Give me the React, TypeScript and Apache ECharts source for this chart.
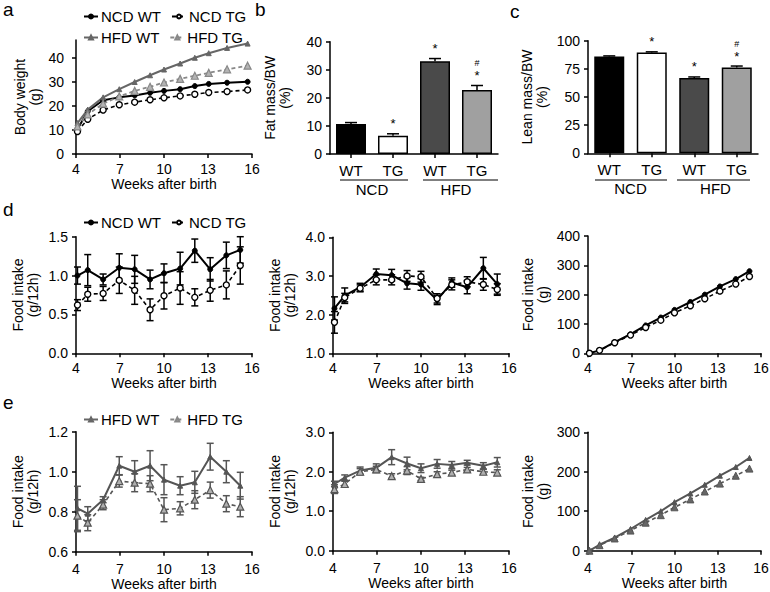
import React, { useEffect, useRef } from "react";
import * as echarts from "echarts";

const FONT = "'Liberation Sans', Arial, Helvetica, sans-serif";

// ---------- data ----------
// panel a: body weight
const weeksA = [4.1, 4.8, 5.85, 6.95, 8.0, 9.05, 10.0, 11.1, 12.1, 13.05, 14.3, 15.7];
const bwNcdWt = [10.3, 17.8, 22.4, 23.6, 24.4, 25.5, 26.3, 27.0, 28.3, 29.2, 29.7, 30.1];
const bwNcdTg = [9.4, 14.5, 18.3, 20.5, 21.6, 22.6, 23.4, 24.2, 24.9, 25.6, 26.0, 26.7];
const bwHfdWt = [12.9, 18.5, 23.6, 27.0, 30.0, 32.8, 35.2, 37.7, 40.1, 42.0, 44.2, 46.0];
const bwHfdTg = [11.5, 16.5, 21.0, 24.0, 26.3, 28.0, 29.8, 31.3, 32.6, 33.8, 35.3, 36.8];

// panels b, c: body composition
const barLabels = ["WT", "TG", "WT", "TG"];
const dietLabels = ["NCD", "HFD"];
const fatMass = [10.7, 6.5, 33.0, 22.8];
const fatErr = [0.5, 0.7, 1.0, 1.6];
const fatMarks = ["", "*", "*", "#*"];
const leanMass = [86.0, 89.5, 66.8, 76.3];
const leanErr = [0.5, 0.6, 1.0, 1.2];
const leanMarks = ["", "*", "*", "#*"];

// panels d, e: food intake
const weeksFI = [4.1, 4.8, 5.85, 6.95, 8.0, 9.05, 10.0, 11.1, 12.1, 13.15, 14.25, 15.2];
const d1Wt = [1.0, 1.07, 0.95, 1.1, 1.08, 0.95, 1.03, 1.09, 1.32, 1.08, 1.26, 1.33];
const d1WtErr = [0.11, 0.2, 0.07, 0.18, 0.18, 0.12, 0.12, 0.21, 0.15, 0.15, 0.17, 0.17];
const d1Tg = [0.62, 0.76, 0.77, 0.94, 0.81, 0.56, 0.74, 0.84, 0.72, 0.81, 0.88, 1.13];
const d1TgErr = [0.07, 0.09, 0.09, 0.17, 0.18, 0.14, 0.17, 0.21, 0.11, 0.14, 0.18, 0.24];
const d2Wt = [2.16, 2.49, 2.71, 3.05, 3.02, 2.81, 2.78, 2.38, 2.83, 2.71, 3.2, 2.79];
const d2WtErr = [0.3, 0.2, 0.1, 0.13, 0.15, 0.15, 0.15, 0.12, 0.12, 0.17, 0.28, 0.26];
const d2Tg = [1.8, 2.44, 2.68, 2.9, 2.9, 3.0, 2.98, 2.42, 2.77, 2.85, 2.78, 2.65];
const d2TgErr = [0.28, 0.11, 0.09, 0.13, 0.13, 0.14, 0.14, 0.12, 0.13, 0.13, 0.15, 0.15];
const d3Wt = [0, 10, 38, 65, 95, 122, 148, 175, 200, 228, 253, 280];
const d3Tg = [0, 10, 36, 62, 88, 113, 138, 162, 186, 212, 236, 262];
const e1Wt = [0.817, 0.79, 0.86, 1.03, 1.0, 1.03, 0.96, 0.93, 0.947, 1.075, 1.0, 0.93];
const e1WtErr = [0.11, 0.035, 0.015, 0.045, 0.055, 0.075, 0.075, 0.045, 0.055, 0.067, 0.055, 0.067];
const e1Tg = [0.78, 0.745, 0.835, 0.953, 0.945, 0.94, 0.81, 0.817, 0.86, 0.908, 0.84, 0.825];
const e1TgErr = [0.08, 0.04, 0.025, 0.03, 0.045, 0.04, 0.06, 0.033, 0.045, 0.04, 0.04, 0.05];
const e2Wt = [1.69, 1.85, 2.03, 2.1, 2.37, 2.21, 2.09, 2.2, 2.17, 2.23, 2.15, 2.24];
const e2WtErr = [0.07, 0.07, 0.09, 0.1, 0.19, 0.16, 0.11, 0.11, 0.09, 0.06, 0.08, 0.12];
const e2Tg = [1.56, 1.69, 2.0, 2.06, 1.89, 2.03, 1.82, 1.94, 1.98, 2.06, 2.0, 1.98];
const e2TgErr = [0.11, 0.07, 0.08, 0.08, 0.06, 0.1, 0.04, 0.06, 0.06, 0.05, 0.06, 0.07];
const e3Wt = [0, 15, 33, 55, 78, 100, 123, 145, 167, 190, 212, 235];
const e3Tg = [0, 14, 31, 51, 71, 90, 110, 130, 150, 170, 190, 208];

// tick labels
const weekTicks = [4, 7, 10, 13, 16];
const ticksA = [0, 10, 20, 30, 40];
const ticksB = [0, 10, 20, 30, 40];
const ticksC = [0, 25, 50, 75, 100];
const ticksD1 = [0, 0.5, 1.0, 1.5];
const ticksD2 = [1, 2, 3, 4];
const ticksD3 = [0, 100, 200, 300, 400];
const ticksE1 = [0.6, 0.8, 1.0, 1.2];
const ticksE2 = [0, 1, 2, 3];
const ticksE3 = [0, 100, 200, 300];

// ---------- layout / styles ----------
const GRIDS = [
  [76, 40, 176, 114], // a
  [330, 41.7, 168, 112.3], // b
  [588, 40.7, 170, 112.6], // c
  [76, 236.7, 176, 116.6], // d1
  [333, 237.3, 176, 116], // d2
  [588, 236, 173, 117.3], // d3
  [76, 431.7, 176, 120], // e1
  [333, 432.3, 176, 118.4], // e2
  [588, 432.3, 173, 118.4], // e3
];
const BAR_COLORS = ["#000000", "#ffffff", "#4a4a4a", "#a0a0a0"];
const HFD = "#555555";

const lineStyleAxis = { color: "#000", width: 1.5 };

function weekAxis(gridIndex: number, gap = 23, margin = 8) {
  return {
    type: "value",
    gridIndex,
    min: 4,
    max: 16,
    axisLine: { show: true, onZero: false, lineStyle: lineStyleAxis },
    axisTick: { show: true, length: 4, lineStyle: lineStyleAxis, customValues: weekTicks },
    axisLabel: { color: "#000", fontSize: 14, fontFamily: FONT, margin, customValues: weekTicks },
    splitLine: { show: false },
    name: "Weeks after birth",
    nameLocation: "middle",
    nameGap: gap,
    nameTextStyle: { color: "#000", fontSize: 14, fontFamily: FONT },
  };
}

function valAxis(gridIndex: number, min: number, max: number, ticks: number[], name: string, gap: number, dec: number, margin = 8) {
  return {
    type: "value",
    gridIndex,
    min,
    max,
    axisLine: { show: true, onZero: false, lineStyle: lineStyleAxis },
    axisTick: { show: true, length: 4, lineStyle: lineStyleAxis, customValues: ticks },
    axisLabel: {
      color: "#000",
      fontSize: 14,
      fontFamily: FONT,
      margin,
      customValues: ticks,
      formatter: (v: number) => v.toFixed(dec),
    },
    splitLine: { show: false },
    name,
    nameLocation: "middle",
    nameRotate: 90,
    nameGap: gap,
    nameTextStyle: { color: "#000", fontSize: 14, fontFamily: FONT, lineHeight: 15, align: "center" },
  };
}

function errRender(color: string) {
  return (params: any, api: any) => {
    const x = api.value(0);
    const y = api.value(1);
    const e = api.value(2);
    const t = api.coord([x, y + e]);
    const b = api.coord([x, y - e]);
    const st = { stroke: color, lineWidth: 1.5 };
    return {
      type: "group",
      children: [
        { type: "line", shape: { x1: t[0], y1: t[1], x2: b[0], y2: b[1] }, style: st },
        { type: "line", shape: { x1: t[0] - 3.5, y1: t[1], x2: t[0] + 3.5, y2: t[1] }, style: st },
        { type: "line", shape: { x1: b[0] - 3.5, y1: b[1], x2: b[0] + 3.5, y2: b[1] }, style: st },
      ],
    };
  };
}

function errSeries(idx: number, weeks: number[], vals: number[], errs: number[], color: string) {
  return {
    type: "custom",
    xAxisIndex: idx,
    yAxisIndex: idx,
    z: 1,
    silent: true,
    data: weeks.map((w, i) => [w, vals[i], errs[i]]),
    encode: { x: 0, y: 1 },
    renderItem: errRender(color),
  };
}

function lineSeries(idx: number, name: string, weeks: number[], vals: number[], opt: any) {
  return {
    type: "line",
    name,
    xAxisIndex: idx,
    yAxisIndex: idx,
    z: 3,
    data: weeks.map((w, i) => [w, vals[i]]),
    symbol: opt.symbol,
    symbolSize: opt.size,
    itemStyle: { color: opt.fill, borderColor: opt.stroke, borderWidth: opt.bw },
    lineStyle: { color: opt.stroke, width: opt.lw, type: opt.dash ? [4, 3] : "solid" },
  };
}

const S_NCD_WT = { symbol: "circle", size: 5, fill: "#000", stroke: "#000", bw: 1, lw: 2, dash: false };
const S_NCD_TG = { symbol: "circle", size: 6, fill: "#fff", stroke: "#000", bw: 1.4, lw: 1.6, dash: true };
const S_HFD_WT_A = { symbol: "triangle", size: 5, fill: "#666", stroke: "#666", bw: 1, lw: 2, dash: false };
const S_HFD_TG_A = { symbol: "triangle", size: 7, fill: "#b4b4b4", stroke: "#888", bw: 1.2, lw: 1.8, dash: true };
const S_HFD_WT = { symbol: "triangle", size: 5, fill: HFD, stroke: HFD, bw: 1, lw: 2, dash: false };
const S_HFD_TG = { symbol: "triangle", size: 7, fill: "#b0b0b0", stroke: HFD, bw: 1.2, lw: 1.6, dash: true };
const S_HFD_TG_C = { symbol: "triangle", size: 7, fill: "#666", stroke: HFD, bw: 1, lw: 1.6, dash: true };

function barCatAxis(gridIndex: number) {
  return {
    type: "category",
    gridIndex,
    data: barLabels,
    axisLine: { show: true, onZero: false, lineStyle: lineStyleAxis },
    axisTick: { show: true, alignWithLabel: true, length: 4, lineStyle: lineStyleAxis },
    axisLabel: { color: "#000", fontSize: 15, fontFamily: FONT, margin: 9 },
    splitLine: { show: false },
  };
}
function dietAxis(gridIndex: number) {
  return {
    type: "category",
    gridIndex,
    data: dietLabels,
    position: "bottom",
    offset: 19,
    axisLine: { show: false },
    axisTick: { show: false },
    axisLabel: { color: "#000", fontSize: 15, fontFamily: FONT, margin: 9 },
    splitLine: { show: false },
  };
}

function barSeries(idx: number, vals: number[]) {
  return {
    type: "bar",
    xAxisIndex: idx,
    yAxisIndex: idx,
    barWidth: 30,
    z: 2,
    data: vals.map((v, i) => ({ value: v, itemStyle: { color: BAR_COLORS[i % BAR_COLORS.length] } })),
    itemStyle: { borderColor: "#000", borderWidth: 1.5 },
  };
}

function barErrSeries(idx: number, vals: number[], errs: number[], marks: string[]) {
  return {
    type: "custom",
    xAxisIndex: idx,
    yAxisIndex: idx,
    z: 3,
    silent: true,
    data: vals.map((v, i) => [i, v, errs[i]]),
    encode: { x: 0, y: 1 },
    renderItem: (params: any, api: any) => {
      const i = api.value(0);
      const v = api.value(1);
      const e = api.value(2);
      const p0 = api.coord([i, v]);
      const p1 = api.coord([i, v + e]);
      const st = { stroke: "#000", lineWidth: 1.5 };
      const children: any[] = [
        { type: "line", shape: { x1: p0[0], y1: p0[1], x2: p1[0], y2: p1[1] }, style: st },
        { type: "line", shape: { x1: p1[0] - 6, y1: p1[1], x2: p1[0] + 6, y2: p1[1] }, style: st },
      ];
      const m = marks[params.dataIndex] || "";
      if (m.indexOf("*") >= 0) {
        children.push({
          type: "text",
          style: { text: "*", x: p1[0], y: p1[1] - 10, align: "center", verticalAlign: "middle", fontSize: 13, fontFamily: FONT, fill: "#000" },
        });
      }
      if (m.indexOf("#") >= 0) {
        children.push({
          type: "text",
          style: { text: "#", x: p1[0], y: p1[1] - 22, align: "center", verticalAlign: "middle", fontSize: 9, fontFamily: FONT, fill: "#000" },
        });
      }
      return { type: "group", children };
    },
  };
}

function legend(top: number, names: string[]) {
  return {
    left: 78,
    top,
    orient: "horizontal",
    itemWidth: 14,
    itemHeight: 5,
    itemGap: 10,
    data: names,
    selectedMode: false,
    textStyle: { color: "#000", fontSize: 15, fontFamily: FONT, padding: [0, 0, 0, -2] },
  };
}

function letter(t: string, x: number, y: number) {
  return {
    type: "text",
    x,
    y,
    style: { text: t, fontSize: 19, fontFamily: FONT, fill: "#000", verticalAlign: "top", align: "left" },
  };
}
function bracket(x1: number, x2: number, y: number) {
  return { type: "line", shape: { x1, y1: y, x2, y2: y }, style: { stroke: "#000", lineWidth: 1.1 } };
}

function buildOption() {
  return {
    animation: false,
    textStyle: { fontFamily: FONT },
    grid: GRIDS.map((g) => ({ left: g[0], top: g[1], width: g[2], height: g[3], containLabel: false, outerBoundsMode: "none" })),
    legend: [
      legend(4, ["NCD WT", "NCD TG"]),
      legend(25, ["HFD WT", "HFD TG"]),
      legend(210, ["NCD WT", "NCD TG"]),
      legend(407, ["HFD WT", "HFD TG"]),
    ],
    xAxis: [
      weekAxis(0),
      barCatAxis(1),
      barCatAxis(2),
      weekAxis(3),
      weekAxis(4),
      weekAxis(5),
      weekAxis(6, 25, 10),
      weekAxis(7, 25, 10),
      weekAxis(8, 25, 10),
      dietAxis(1),
      dietAxis(2),
    ],
    yAxis: [
      valAxis(0, 0, 47.5, ticksA, "Body weight\n(g)", 34, 0, 12),
      valAxis(1, 0, 40, ticksB, "Fat mass/BW\n(%)", 38, 0),
      valAxis(2, 0, 100, ticksC, "Lean mass/BW\n(%)", 39, 0),
      valAxis(3, 0, 1.5, ticksD1, "Food intake\n(g/12h)", 36, 1),
      valAxis(4, 1, 4, ticksD2, "Food intake\n(g/12h)", 36, 1),
      valAxis(5, 0, 400, ticksD3, "Food intake\n(g)", 38, 0),
      valAxis(6, 0.6, 1.2, ticksE1, "Food intake\n(g/12h)", 36, 1),
      valAxis(7, 0, 3, ticksE2, "Food intake\n(g/12h)", 36, 1),
      valAxis(8, 0, 300, ticksE3, "Food intake\n(g)", 38, 0),
    ],
    series: [
      // a
      lineSeries(0, "NCD WT", weeksA, bwNcdWt, S_NCD_WT),
      lineSeries(0, "NCD TG", weeksA, bwNcdTg, S_NCD_TG),
      lineSeries(0, "HFD WT", weeksA, bwHfdWt, S_HFD_WT_A),
      lineSeries(0, "HFD TG", weeksA, bwHfdTg, S_HFD_TG_A),
      // b
      barSeries(1, fatMass),
      barErrSeries(1, fatMass, fatErr, fatMarks),
      // c
      barSeries(2, leanMass),
      barErrSeries(2, leanMass, leanErr, leanMarks),
      // d1
      errSeries(3, weeksFI, d1Wt, d1WtErr, "#000"),
      errSeries(3, weeksFI, d1Tg, d1TgErr, "#000"),
      lineSeries(3, "NCD WT", weeksFI, d1Wt, S_NCD_WT),
      lineSeries(3, "NCD TG", weeksFI, d1Tg, S_NCD_TG),
      // d2
      errSeries(4, weeksFI, d2Wt, d2WtErr, "#000"),
      errSeries(4, weeksFI, d2Tg, d2TgErr, "#000"),
      lineSeries(4, "NCD WT", weeksFI, d2Wt, S_NCD_WT),
      lineSeries(4, "NCD TG", weeksFI, d2Tg, S_NCD_TG),
      // d3
      lineSeries(5, "NCD WT", weeksFI, d3Wt, S_NCD_WT),
      lineSeries(5, "NCD TG", weeksFI, d3Tg, S_NCD_TG),
      // e1
      errSeries(6, weeksFI, e1Wt, e1WtErr, HFD),
      errSeries(6, weeksFI, e1Tg, e1TgErr, HFD),
      lineSeries(6, "HFD WT", weeksFI, e1Wt, S_HFD_WT),
      lineSeries(6, "HFD TG", weeksFI, e1Tg, S_HFD_TG),
      // e2
      errSeries(7, weeksFI, e2Wt, e2WtErr, HFD),
      errSeries(7, weeksFI, e2Tg, e2TgErr, HFD),
      lineSeries(7, "HFD WT", weeksFI, e2Wt, S_HFD_WT),
      lineSeries(7, "HFD TG", weeksFI, e2Tg, S_HFD_TG),
      // e3
      lineSeries(8, "HFD WT", weeksFI, e3Wt, S_HFD_WT),
      lineSeries(8, "HFD TG", weeksFI, e3Tg, S_HFD_TG_C),
    ],
    graphic: [
      letter("a", 3, 0),
      letter("b", 255, 0),
      letter("c", 510, 2),
      letter("d", 3, 200),
      letter("e", 3, 393),
      bracket(340, 408, 180),
      bracket(423, 498, 180),
      bracket(595, 667, 180),
      bracket(677, 750, 180),
    ],
  };
}

export default function App() {
  const ref = useRef<HTMLDivElement>(null);
  useEffect(() => {
    if (!ref.current) return;
    const chart = echarts.init(ref.current, undefined, { renderer: "svg" });
    chart.setOption(buildOption() as any);
    return () => chart.dispose();
  }, []);
  return (
    <div
      ref={ref}
      style={{ position: "absolute", left: 0, top: 0, width: 770, height: 592, background: "#fff" }}
    />
  );
}
